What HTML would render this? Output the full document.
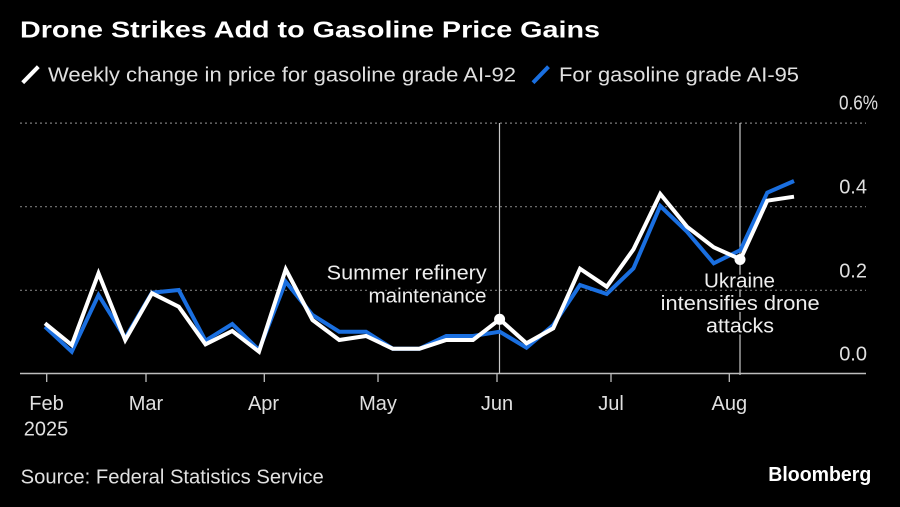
<!DOCTYPE html>
<html>
<head>
<meta charset="utf-8">
<style>
  html, body { margin:0; padding:0; background:#000; }
  body { width:900px; height:507px; overflow:hidden; }
  svg { display:block; }
  text { font-family: "Liberation Sans", "DejaVu Sans", sans-serif; }
  .lbl { fill:#e0e0e0; font-size:20px; }
  .ann { fill:#eeeeee; font-size:20px; stroke:#000; stroke-width:4px; paint-order:stroke; stroke-linejoin:round; }
</style>
</head>
<body>
<svg width="900" height="507" viewBox="0 0 900 507" xmlns="http://www.w3.org/2000/svg">
  <rect x="0" y="0" width="900" height="507" fill="#000"/>

  <!-- Title -->
  <text x="20" y="37.3" font-size="23" font-weight="bold" fill="#ffffff" textLength="580" lengthAdjust="spacingAndGlyphs">Drone Strikes Add to Gasoline Price Gains</text>

  <!-- Legend -->
  <line x1="22.7" y1="82.7" x2="38.3" y2="66.7" stroke="#ffffff" stroke-width="4"/>
  <text x="48" y="81.7" class="lbl" textLength="468" lengthAdjust="spacingAndGlyphs">Weekly change in price for gasoline grade AI-92</text>
  <line x1="533" y1="82.7" x2="548.5" y2="66.7" stroke="#1a6fe0" stroke-width="4"/>
  <text x="559" y="81.7" class="lbl" textLength="240" lengthAdjust="spacingAndGlyphs">For gasoline grade AI-95</text>

  <!-- Gridlines -->
  <g stroke="#7a7a7a" stroke-width="1.2" stroke-dasharray="2 3">
    <line x1="20" y1="123.1" x2="866" y2="123.1"/>
    <line x1="20" y1="206.7" x2="866" y2="206.7"/>
    <line x1="20" y1="290.3" x2="866" y2="290.3"/>
  </g>

  <!-- Y labels -->
  <text x="839" y="109.6" class="lbl" font-size="19" textLength="39" lengthAdjust="spacingAndGlyphs">0.6%</text>
  <text x="867" y="193.3" class="lbl" font-size="19" text-anchor="end">0.4</text>
  <text x="867" y="277.3" class="lbl" font-size="19" text-anchor="end">0.2</text>
  <text x="867" y="360.7" class="lbl" font-size="19" text-anchor="end">0.0</text>

  <!-- Annotation vertical lines -->
  <line x1="499.5" y1="123" x2="499.5" y2="374" stroke="#c8c8c8" stroke-width="1.2"/>
  <line x1="740" y1="123" x2="740" y2="375" stroke="#c8c8c8" stroke-width="1.2"/>

  <!-- Axis -->
  <line x1="20" y1="373.5" x2="866" y2="373.5" stroke="#bdbdbd" stroke-width="1.5"/>
  <g stroke="#bdbdbd" stroke-width="1.3">
    <line x1="46.7" y1="373.5" x2="46.7" y2="382"/>
    <line x1="146" y1="373.5" x2="146" y2="382"/>
    <line x1="264.3" y1="373.5" x2="264.3" y2="382"/>
    <line x1="378" y1="373.5" x2="378" y2="382"/>
    <line x1="497" y1="373.5" x2="497" y2="382"/>
    <line x1="611" y1="373.5" x2="611" y2="382"/>
    <line x1="729.3" y1="373.5" x2="729.3" y2="382"/>
  </g>

  <!-- X labels -->
  <g class="lbl" text-anchor="middle">
    <text x="46.5" y="410">Feb</text>
    <text x="46" y="435.7">2025</text>
    <text x="146" y="410">Mar</text>
    <text x="263.5" y="410">Apr</text>
    <text x="378" y="410">May</text>
    <text x="497" y="410">Jun</text>
    <text x="611" y="410">Jul</text>
    <text x="729.3" y="410">Aug</text>
  </g>

  <!-- Series: AI-95 (blue) -->
  <polyline fill="none" stroke="#1a6fe0" stroke-width="4" stroke-linejoin="miter" stroke-miterlimit="6"
    points="45,326.7 71.75,351.7 98.5,295 125.25,338 152,292.7 178.75,290 205.5,340.7 232.25,324 259,350 285.75,281.7 312.5,315 339.25,331.7 366,331.7 392.75,348.7 419.5,348.7 446.25,336 473,336 499.75,331.7 526.5,347.7 553.25,325 580,285 606.75,294 633.5,268.3 660.25,206 687,231.7 713.75,263.3 740.5,250 767.25,192.7 794,181"/>

  <!-- Series: AI-92 (white) -->
  <polyline fill="none" stroke="#ffffff" stroke-width="4" stroke-linejoin="miter" stroke-miterlimit="6"
    points="45,323.3 71.75,345 98.5,273.3 125.25,340 152,293.3 178.75,306.7 205.5,344.3 232.25,331 259,351.7 285.75,269.3 312.5,320 339.25,340 366,336 392.75,348.7 419.5,348.7 446.25,340 473,340 499.75,319.3 526.5,343.3 553.25,328.3 580,268.7 606.75,286.7 633.5,249.3 660.25,194 687,226.7 713.75,247.3 740.5,259.3 767.25,200.7 794,196.7"/>

  <!-- Dots -->
  <circle cx="499.6" cy="319.3" r="5.5" fill="#ffffff"/>
  <circle cx="740" cy="259.5" r="5.5" fill="#ffffff"/>

  <!-- Annotations -->
  <text x="326.7" y="279.3" class="ann" textLength="160" lengthAdjust="spacingAndGlyphs">Summer refinery</text>
  <text x="368.5" y="302.7" class="ann" textLength="118" lengthAdjust="spacingAndGlyphs">maintenance</text>
  <text x="704" y="287.3" class="ann" textLength="71" lengthAdjust="spacingAndGlyphs">Ukraine</text>
  <text x="660.7" y="310" class="ann" textLength="159" lengthAdjust="spacingAndGlyphs">intensifies drone</text>
  <text x="706" y="332.7" class="ann" textLength="68" lengthAdjust="spacingAndGlyphs">attacks</text>

  <!-- Footer -->
  <text x="20.7" y="483.3" class="lbl" textLength="303" lengthAdjust="spacingAndGlyphs">Source: Federal Statistics Service</text>
  <text x="768.3" y="481" font-size="20" font-weight="bold" fill="#ffffff" textLength="103" lengthAdjust="spacingAndGlyphs">Bloomberg</text>
</svg>
</body>
</html>
